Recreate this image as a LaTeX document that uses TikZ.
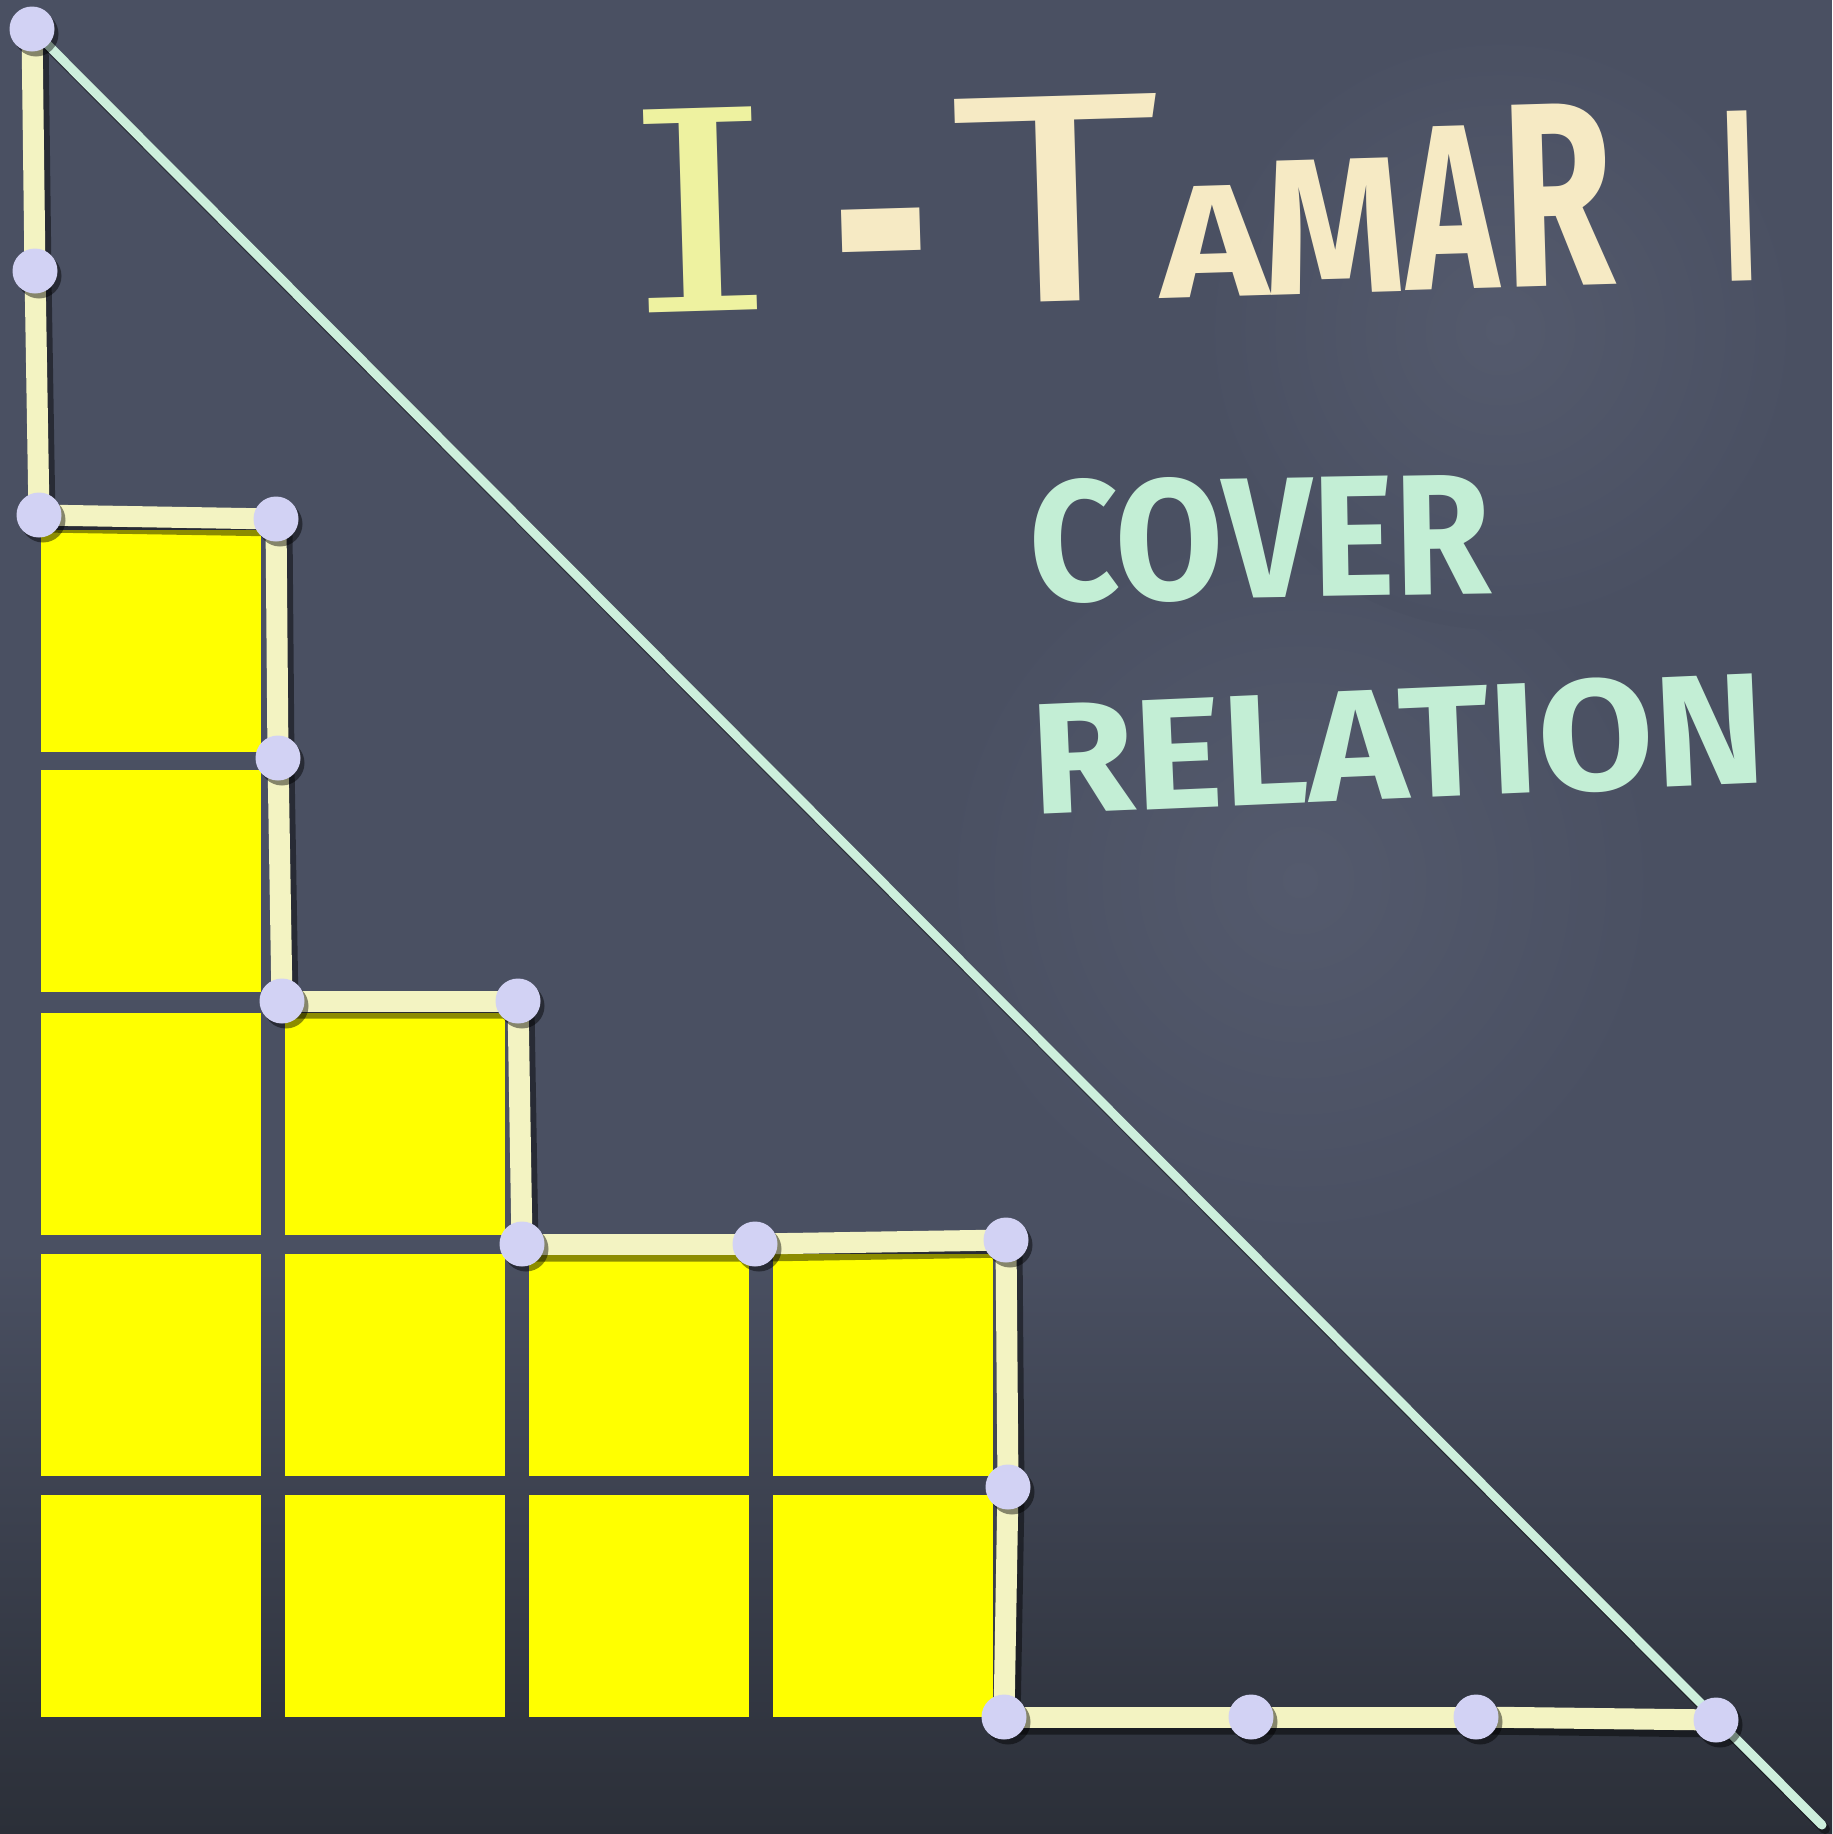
\documentclass[tikz,border=0pt]{standalone}
\usepackage{fontspec}
\usepackage{graphicx}
\newfontfamily\hand{Fira Sans}
\newfontfamily\serifI{DejaVu Serif}
\usetikzlibrary{shapes.geometric,calc}
\definecolor{board}{HTML}{4A5062}
\definecolor{boardlight}{HTML}{545A6D}
\definecolor{boardlow}{HTML}{2B2F38}
\definecolor{chalkyel}{HTML}{F3F3C2}
\definecolor{dotcol}{HTML}{D2D2F4}
\definecolor{mint}{HTML}{CDEFDC}
\definecolor{sticky}{HTML}{FFFF00}
\definecolor{titlecream}{HTML}{F6EAC4}
\definecolor{titleyel}{HTML}{EEF2A0}
\definecolor{minttext}{HTML}{C3EED5}
\begin{document}
\begin{tikzpicture}[x=1pt,y=-1pt,
  dotnode/.style={circle, fill=dotcol, minimum size=45pt, inner sep=0pt},
  dotshadow/.style={circle, fill=black, opacity=0.45, minimum size=45pt, inner sep=0pt},
  pathline/.style={draw=chalkyel, line width=21pt, line cap=round},
  shadowline/.style={draw=black, opacity=0.45, line width=23pt, line cap=round},
  diag/.style={draw=mint, line width=9pt, line cap=round},
  cell/.style={fill=sticky},
  handtext/.style={inner sep=0pt, font=\hand\bfseries}
]
\useasboundingbox (0,0) rectangle (1832,1834);
% board
\fill[board] (0,0) rectangle (1832,1834);
\shade[inner color=boardlight, outer color=board] (1300,880) circle (360);
\shade[inner color=boardlight, outer color=board] (1500,330) circle (300);
\shade[top color=board, bottom color=boardlow] (0,1250) rectangle (1832,1834);

% sticky cells
\foreach \x/\y in {41/530, 41/770, 41/1013, 41/1254, 41/1495,
                   285/1013, 285/1254, 285/1495,
                   529/1254, 529/1495,
                   773/1254, 773/1495}
  \fill[cell] (\x,\y) rectangle ++(220,222);

% lattice points
\coordinate (q1) at (32,29);
\coordinate (q2) at (35,271);
\coordinate (q3) at (39,515);
\coordinate (q4) at (276,519);
\coordinate (q5) at (278,758);
\coordinate (q6) at (282,1001);
\coordinate (q7) at (518,1001);
\coordinate (q8) at (522,1244);
\coordinate (q9) at (755,1244);
\coordinate (q10) at (1006,1240);
\coordinate (q11) at (1008,1487);
\coordinate (q12) at (1004,1717);
\coordinate (q13) at (1251,1717);
\coordinate (q14) at (1476,1717);
\coordinate (q15) at (1716,1720);
\coordinate (diagend) at (1822,1825);

% path shadow
\draw[shadowline, transform canvas={shift={(5pt,-6pt)}}]
  (q1) -- (q2) -- (q3) -- (q4) -- (q5) -- (q6) -- (q7) -- (q8) -- (q9) -- (q10) -- (q11) -- (q12) -- (q13) -- (q14) -- (q15);
% path
\draw[pathline] (q1) -- (q2);
\draw[pathline] (q2) -- (q3);
\draw[pathline] (q3) -- (q4);
\draw[pathline] (q4) -- (q5);
\draw[pathline] (q5) -- (q6);
\draw[pathline] (q6) -- (q7);
\draw[pathline] (q7) -- (q8);
\draw[pathline] (q8) -- (q9);
\draw[pathline] (q9) -- (q10);
\draw[pathline] (q10) -- (q11);
\draw[pathline] (q11) -- (q12);
\draw[pathline] (q12) -- (q13);
\draw[pathline] (q13) -- (q14);
\draw[pathline] (q14) -- (q15);

% diagonal
\draw[draw=black, opacity=0.4, line width=10pt, line cap=round, transform canvas={shift={(3pt,-4pt)}}] (q1) -- (diagend);
\draw[diag] (q1) -- (diagend);

% dots
\foreach \i in {1,...,15}
  \node[dotshadow] (s\i) at ($(q\i)+(4,5)$) {};
\foreach \i in {1,...,15}
  \node[dotnode] (p\i) at (q\i) {};

% title
\node[handtext, rotate=1.7, anchor=base west] (title) at (628,314)
  {\fontsize{250}{250}\selectfont
   {\color{titleyel}\resizebox{150pt}{203pt}{\serifI\mdseries I}}\hspace{55pt}%
   \color{titlecream}%
   \raisebox{-33pt}{\resizebox{100pt}{130pt}{-}}\hspace{21pt}%
   \resizebox{212pt}{205pt}{\mdseries T}\hspace{-4pt}%
   \resizebox{108pt}{111pt}{A}\hspace{-4pt}%
   \resizebox{142pt}{134pt}{M}\hspace{0pt}%
   \resizebox{92pt}{163pt}{A}\hspace{6pt}%
   \resizebox{111pt}{182pt}{R}\hspace{108pt}%
   \resizebox{35pt}{170pt}{I}};

\node[handtext, text=minttext, rotate=1] (cover) at (1260,538)
  {\resizebox{462pt}{122pt}{COVER}};

\node[handtext, text=minttext, rotate=2.5] (relation) at (1398,744)
  {\resizebox{735pt}{112pt}{RELATION}};
\end{tikzpicture}
\end{document}
